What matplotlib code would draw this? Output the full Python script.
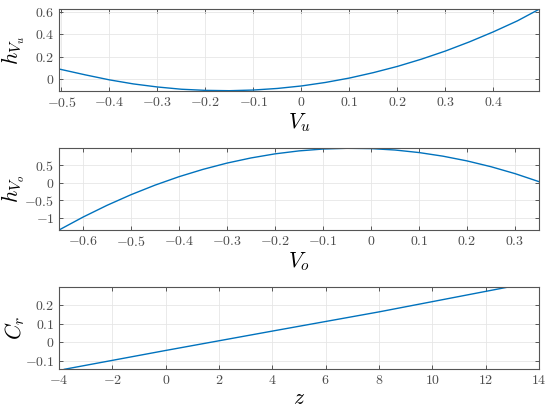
import numpy as np
import matplotlib
matplotlib.use('Agg')
import matplotlib.pyplot as plt
from matplotlib.ticker import FuncFormatter

# Panel 1: h_Vu vs V_u
vu = [-0.505, -0.45, -0.4, -0.35, -0.3, -0.25, -0.2, -0.15, -0.1, -0.05, 0.0,
      0.05, 0.1, 0.15, 0.2, 0.25, 0.3, 0.35, 0.4, 0.45, 0.495]
h_vu = [0.092, 0.040, -0.004, -0.040, -0.067, -0.087, -0.097, -0.100, -0.094, -0.080, -0.058,
        -0.027, 0.012, 0.060, 0.115, 0.179, 0.251, 0.332, 0.421, 0.518, 0.620]

# Panel 2: h_Vo vs V_o
vo = [-0.65, -0.6, -0.55, -0.5, -0.45, -0.4, -0.35, -0.3, -0.25, -0.2, -0.15,
      -0.1, -0.05, 0.0, 0.05, 0.1, 0.15, 0.2, 0.25, 0.3, 0.35]
h_vo = [-1.340, -0.974, -0.640, -0.338, -0.067, 0.173, 0.381, 0.559, 0.705, 0.821, 0.905,
        0.958, 0.979, 0.970, 0.930, 0.858, 0.755, 0.621, 0.456, 0.260, 0.032]

# Panel 3: C_r vs z
z = [-3.8, 0.0, 4.0, 8.0, 12.8]
c_r = [-0.145, -0.044, 0.060, 0.163, 0.295]

plt.rcParams['font.family'] = 'serif'
plt.rcParams['font.serif'] = ['cmr10', 'DejaVu Serif']
plt.rcParams['mathtext.fontset'] = 'cm'


def tick_fmt(v, pos):
    v = round(v, 6)
    if abs(v) < 1e-9:
        v = 0.0
    return '$%g$' % v


fmt = FuncFormatter(tick_fmt)
blue = '#0072BD'

fig = plt.figure(figsize=(5.5, 4.11), dpi=100)
left, width = 0.1073, 0.8727
axs = [fig.add_axes([left, 0.7793, width, 0.198]),
       fig.add_axes([left, 0.4404, width, 0.1988]),
       fig.add_axes([left, 0.1015, width, 0.1995])]

panels = [
    (vu, h_vu, (-0.505, 0.495), (min(h_vu), max(h_vu)),
     np.arange(-0.5, 0.45, 0.1), [0, 0.2, 0.4, 0.6], r'$V_u$', r'$h_{V_u}$'),
    (vo, h_vo, (-0.65, 0.35), (min(h_vo), max(h_vo)),
     np.arange(-0.6, 0.35, 0.1), [-1, -0.5, 0, 0.5], r'$V_o$', r'$h_{V_o}$'),
    (z, c_r, (-4, 14), (min(c_r), max(c_r)),
     np.arange(-4, 15, 2), [-0.1, 0, 0.1, 0.2], r'$z$', r'$C_r$'),
]

for ax, (x, y, xl, yl, xt, yt, xlab, ylab) in zip(axs, panels):
    ax.plot(x, y, color=blue, lw=1.0)
    ax.set_xlim(*xl)
    ax.set_ylim(*yl)
    ax.set_xticks(xt)
    ax.set_yticks(yt)
    ax.xaxis.set_major_formatter(fmt)
    ax.yaxis.set_major_formatter(fmt)
    ax.grid(True, color='#e6e6e6', lw=0.6)
    ax.set_axisbelow(True)
    ax.tick_params(direction='in', top=True, right=True, length=3,
                   width=0.6, color='#404040', labelsize=10, labelcolor='#4d4d4d')
    for s in ax.spines.values():
        s.set_color('#555555')
        s.set_linewidth(0.8)
    ax.set_xlabel(xlab, fontsize=15.5, labelpad=1)
    ax.set_ylabel(ylab, fontsize=15.5)
    ax.yaxis.set_label_coords(-0.066, 0.5)

fig.savefig('out.png', dpi=100)
